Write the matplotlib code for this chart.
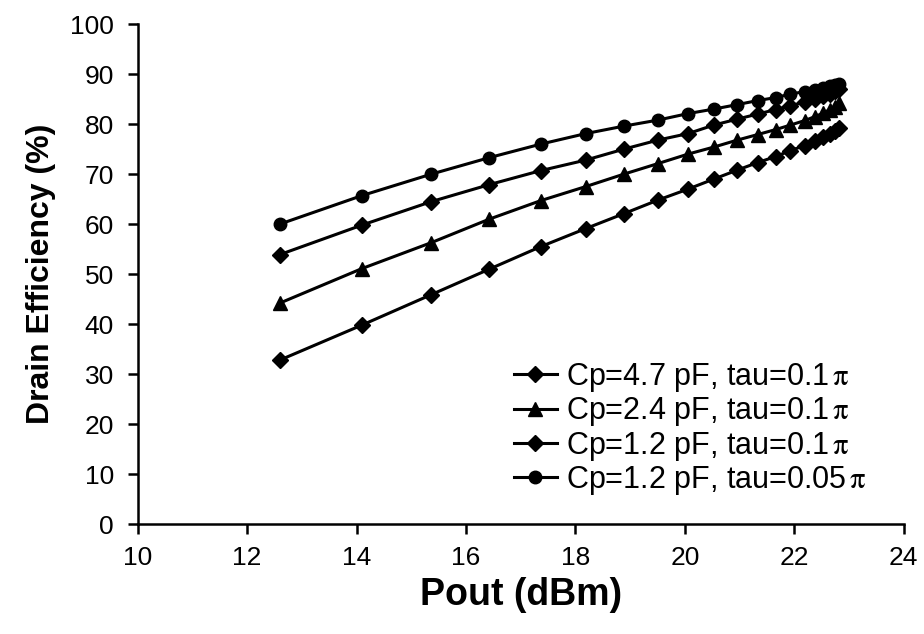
import matplotlib
matplotlib.use("Agg")
import matplotlib.pyplot as plt

plt.rcParams['font.family'] = ['Liberation Sans', 'DejaVu Sans']
plt.rcParams['mathtext.fontset'] = 'stix'

# Output power sweep (dBm), shared by all four cases
pout = [12.6, 14.1, 15.37, 16.43, 17.37, 18.19, 18.89, 19.51, 20.06, 20.53,
        20.96, 21.33, 21.66, 21.93, 22.19, 22.38, 22.53, 22.65, 22.74, 22.82]

# Drain efficiency (%) for each parasitic capacitance / tau setting
eff_cp47_tau01 = [32.8, 39.8, 45.9, 51.0, 55.5, 59.1, 62.1, 64.8, 67.0, 69.0,
                  70.8, 72.3, 73.5, 74.7, 75.7, 76.6, 77.4, 78.1, 78.7, 79.3]
eff_cp24_tau01 = [44.2, 51.1, 56.3, 61.0, 64.7, 67.5, 70.0, 72.1, 74.0, 75.4,
                  76.8, 77.9, 78.9, 79.8, 80.7, 81.5, 82.2, 82.9, 83.5, 84.2]
eff_cp12_tau01 = [53.9, 59.8, 64.5, 67.9, 70.7, 72.8, 75.0, 76.8, 78.1, 79.8,
                  81.0, 82.0, 82.9, 83.7, 84.4, 85.0, 85.6, 86.1, 86.6, 87.0]
eff_cp12_tau005 = [60.0, 65.7, 70.0, 73.3, 76.0, 78.1, 79.6, 80.8, 82.1, 83.0,
                   83.9, 84.7, 85.3, 86.0, 86.5, 86.9, 87.3, 87.6, 87.8, 88.1]

labels = [r"Cp=4.7 pF, tau=0.1$\,\mathrm{\pi}$",
          r"Cp=2.4 pF, tau=0.1$\,\mathrm{\pi}$",
          r"Cp=1.2 pF, tau=0.1$\,\mathrm{\pi}$",
          r"Cp=1.2 pF, tau=0.05$\,\mathrm{\pi}$"]

xticks = [10, 12, 14, 16, 18, 20, 22, 24]
yticks = [0, 10, 20, 30, 40, 50, 60, 70, 80, 90, 100]

fig = plt.figure(figsize=(9.24, 6.34), dpi=100)
ax = fig.add_axes([0.149, 0.1735, 0.829, 0.7885])

styles = [('D', 8), ('^', 9.5), ('D', 8), ('o', 9)]
all_series = [eff_cp47_tau01, eff_cp24_tau01, eff_cp12_tau01, eff_cp12_tau005]
for vals, (mk, ms), lab in zip(all_series, styles, labels):
    ax.plot(pout, vals, color='black', linewidth=2.2, marker=mk,
            markersize=ms, markerfacecolor='black', markeredgecolor='black',
            label=lab)

ax.set_xlim(10, 24)
ax.set_ylim(0, 100)
ax.set_xticks(xticks)
ax.set_yticks(yticks)
ax.tick_params(axis='both', direction='out', length=7, width=1.8,
               labelsize=19, colors='black')
ax.tick_params(axis='x', pad=9)
ax.tick_params(axis='y', pad=10)

for side in ['top', 'right']:
    ax.spines[side].set_visible(False)
for side in ['left', 'bottom']:
    ax.spines[side].set_linewidth(1.8)
    ax.spines[side].set_color('black')

ax.set_xlabel("Pout (dBm)", fontsize=27, fontweight='bold', labelpad=5)
ax.set_ylabel("Drain Efficiency (%)", fontsize=23, fontweight='bold', labelpad=10)

ax.legend(loc='lower right', bbox_to_anchor=(0.967, 0.03), frameon=False,
          fontsize=22, handlelength=1.4, handletextpad=0.3, labelspacing=0.04,
          borderaxespad=0.0)

fig.savefig("out.png", dpi=100)
